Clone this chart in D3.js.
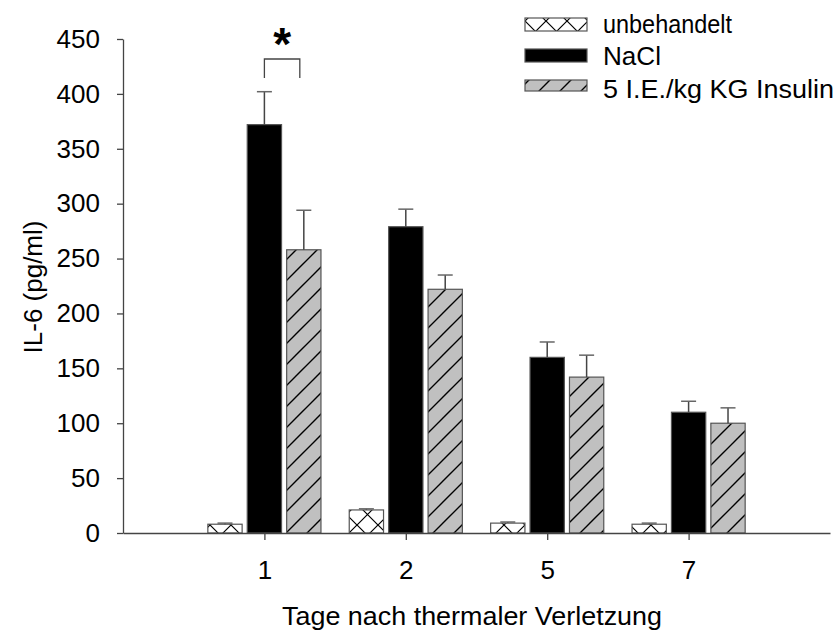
<!DOCTYPE html>
<html><head><meta charset="utf-8">
<script src="https://cdn.jsdelivr.net/npm/d3@7"></script>
<style>body{margin:0;background:#fff;} text{font-family:"Liberation Sans",Arial,sans-serif;}</style>
</head><body>
<svg id="c" width="834" height="631"></svg>
<script>
const categories = ["1", "2", "5", "7"];
const seriesNames = ["unbehandelt", "NaCl", "5 I.E./kg KG Insulin"];
const unbehandelt = [8, 21, 9, 8];
const unbehandeltErr = [1, 1, 1, 1];
const nacl = [372, 279, 160, 110];
const naclErr = [30, 16, 14, 10];
const insulin = [258, 222, 142, 100];
const insulinErr = [36, 13, 20, 14];
const yTicks = [0, 50, 100, 150, 200, 250, 300, 350, 400, 450];
const xTitle = "Tage nach thermaler Verletzung";
const yTitle = "IL-6 (pg/ml)";

const series = [
  {name: seriesNames[0], values: unbehandelt, err: unbehandeltErr, fill: "url(#cross)"},
  {name: seriesNames[1], values: nacl, err: naclErr, fill: "#000"},
  {name: seriesNames[2], values: insulin, err: insulinErr, fill: "url(#diag)"}
];

const FONT = '"Liberation Sans",Arial,sans-serif';
const svg = d3.select("#c");
const defs = svg.append("defs");
const P = 21;
const cross = defs.append("pattern").attr("id","cross").attr("patternUnits","userSpaceOnUse")
  .attr("width",P).attr("height",P);
cross.append("rect").attr("width",P).attr("height",P).attr("fill","#fff");
cross.append("path").attr("d",`M0,0L${P},${P}M0,${P}L${P},0`).attr("stroke","#000").attr("stroke-width",1.2);
const diag = defs.append("pattern").attr("id","diag").attr("patternUnits","userSpaceOnUse")
  .attr("width",P).attr("height",P);
diag.append("rect").attr("width",P).attr("height",P).attr("fill","#c0c0c0");
diag.append("path").attr("d",`M0,${P}L${P},0M-3,3L3,-3M${P-3},${P+3}L${P+3},${P-3}`).attr("stroke","#000").attr("stroke-width",1.4);

const x = d3.scalePoint().domain(categories).range([123, 830]).padding(1);
const step = x.step();
const inner = d3.scaleBand().domain(d3.range(3)).range([-step*0.4, step*0.4]).paddingInner(0.13);
const y = d3.scaleLinear().domain([0, 450]).range([533, 39]);

// bars
series.forEach((s, si) => {
  const g = svg.append("g");
  g.selectAll("rect").data(s.values).join("rect")
    .attr("x", (d,i) => x(categories[i]) + inner(si))
    .attr("y", d => y(d))
    .attr("width", inner.bandwidth())
    .attr("height", d => y(0) - y(d))
    .attr("fill", s.fill)
    .attr("stroke", "#555").attr("stroke-width", 1.2);
  s.values.forEach((d,i) => {
    const cx = x(categories[i]) + inner(si) + inner.bandwidth()/2;
    const top = y(d + s.err[i]);
    g.append("line").attr("x1",cx).attr("x2",cx).attr("y1",y(d)).attr("y2",top)
      .attr("stroke","#444").attr("stroke-width",1.5);
    g.append("line").attr("x1",cx-7.5).attr("x2",cx+7.5).attr("y1",top).attr("y2",top)
      .attr("stroke","#666").attr("stroke-width",1.5);
  });
});

// axes
const yAxis = svg.append("g").attr("transform","translate(123,0)")
  .call(d3.axisLeft(y).tickValues(yTicks).tickSize(6).tickSizeOuter(0).tickPadding(17));
const xAxis = svg.append("g").attr("transform","translate(0,533)")
  .call(d3.axisBottom(x).tickSize(7).tickSizeOuter(0).tickPadding(21));
[yAxis, xAxis].forEach(a => {
  a.attr("font-size", null).attr("font-family", null);
  a.select(".domain").attr("stroke","#444").attr("stroke-width",1.3);
  a.selectAll(".tick line").attr("stroke","#444").attr("stroke-width",1.3);
  a.selectAll(".tick text").attr("fill","#000")
    .style("font-size","26px").style("font-family",FONT);
});
xAxis.selectAll(".tick text").attr("dy","0.71em");

svg.append("text").attr("x", 472).attr("y", 625).attr("text-anchor","middle")
  .style("font-size","26px").attr("textLength",380).attr("lengthAdjust","spacingAndGlyphs").text(xTitle);
svg.append("text").attr("transform","translate(33,287) rotate(-90)").attr("text-anchor","middle")
  .attr("dominant-baseline","central").style("font-size","26px").text(yTitle);

// significance bracket
const bx1 = x("1") + inner(1) + inner.bandwidth()/2;
const bx2 = x("1") + inner(2) + inner.bandwidth()/2 - 4;
svg.append("path").attr("d",`M${bx1},78V59H${bx2}V78`).attr("fill","none")
  .attr("stroke","#444").attr("stroke-width",1.3);
svg.append("text").attr("x",(bx1+bx2)/2).attr("y",60).attr("text-anchor","middle")
  .style("font-size","46px").attr("font-weight","bold").text("*");

// legend
const lg = svg.append("g");
const rows = [{y:18,h:13,b:33,w:129},{y:49,h:13,b:65,w:58},{y:80,h:11,b:98,w:231}];
series.forEach((s, i) => {
  lg.append("rect").attr("x",525).attr("y",rows[i].y).attr("width",62).attr("height",rows[i].h)
    .attr("fill",s.fill).attr("stroke","#555").attr("stroke-width",1.2);
  lg.append("text").attr("x",603).attr("y",rows[i].b).style("font-size","26px")
    .attr("textLength",rows[i].w).attr("lengthAdjust","spacingAndGlyphs").text(s.name);
});
</script>
</body></html>
